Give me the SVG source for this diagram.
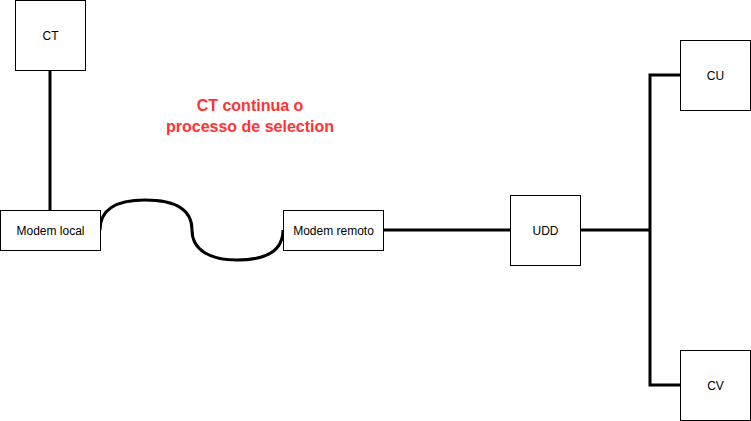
<svg xmlns="http://www.w3.org/2000/svg" width="751" height="421" viewBox="0 0 751 421">
<style>
.box{fill:#fff;stroke:#000;stroke-width:1}
.lbl{font-family:"Liberation Sans",Arial,sans-serif;font-size:12px;fill:#000;text-anchor:middle;dominant-baseline:central}
.conn{fill:none;stroke:#000;stroke-width:3}
.note{font-family:"Liberation Sans",Arial,sans-serif;font-size:16px;font-weight:bold;fill:#FF3333;text-anchor:middle}
</style>
<rect width="751" height="421" fill="#fff"/>
<g id="connectors">
<path class="conn" d="M50,70 L50,210"/>
<path class="conn" d="M100,230 C100,208 118,200 145,200 C180,200 192,212 192,230 C192,250 210,260 237,260 C265,260 283,252 283,230"/>
<path class="conn" d="M383,230 L510,230"/>
<path class="conn" d="M580,230 L650,230"/>
<path class="conn" d="M680,75 L650,75 L650,385 L680,385"/>
</g>
<g id="CT"><rect class="box" x="15.5" y="0.5" width="70" height="70"/><text class="lbl" x="50.5" y="35.5">CT</text></g>
<g id="modem-local"><rect class="box" x="0.5" y="210.5" width="100" height="40"/><text class="lbl" x="50.5" y="230.5">Modem local</text></g>
<g id="modem-remoto"><rect class="box" x="283.5" y="210.5" width="100" height="40"/><text class="lbl" x="333.5" y="230.5">Modem remoto</text></g>
<g id="UDD"><rect class="box" x="510.5" y="195.5" width="70" height="70"/><text class="lbl" x="545.5" y="230.5">UDD</text></g>
<g id="CU"><rect class="box" x="680.5" y="40.5" width="70" height="70"/><text class="lbl" x="715.5" y="75.5">CU</text></g>
<g id="CV"><rect class="box" x="680.5" y="350.5" width="70" height="70"/><text class="lbl" x="715.5" y="385.5">CV</text></g>
<g id="note"><text class="note" x="250" y="111">CT continua o</text><text class="note" x="250" y="132">processo de selection</text></g>
</svg>
